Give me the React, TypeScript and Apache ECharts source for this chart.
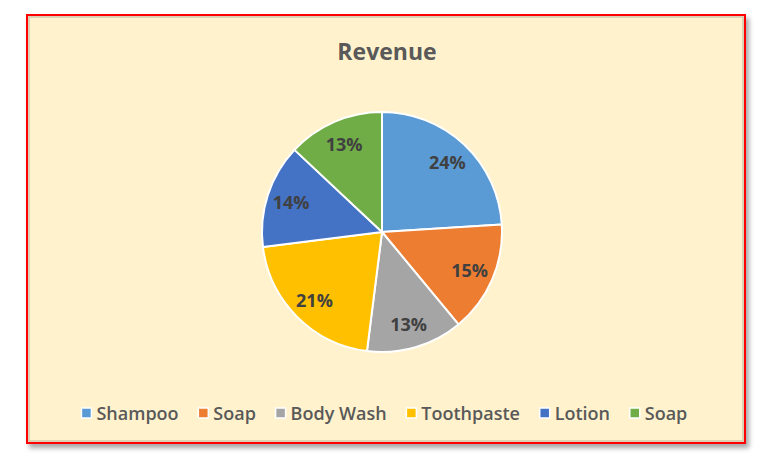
import React, { useEffect, useRef } from "react";
import * as echarts from "echarts";

const categories = ["Shampoo", "Soap", "Body Wash", "Toothpaste", "Lotion", "Soap "];
const shares = [24, 15, 13, 21, 14, 13];
const colors = ["#5B9BD5", "#ED7D31", "#A5A5A5", "#FFC000", "#4472C4", "#70AD47"];

const FONT = "'Open Sans', 'Noto Sans', sans-serif";

export default function App() {
  const chartRef = useRef<HTMLDivElement>(null);

  useEffect(() => {
    if (!chartRef.current) return;
    const chart = echarts.init(chartRef.current, undefined, { renderer: "svg" });

    const data = categories.map((name, i) => ({
      name,
      value: shares[i],
      itemStyle: { color: colors[i] },
    }));

    chart.setOption({
      animation: false,
      color: colors,
      title: {
        text: "Revenue",
        left: 382,
        textAlign: "center",
        top: 34,
        textStyle: {
          fontFamily: FONT,
          fontSize: 23,
          fontWeight: "bold",
          color: "#595959",
        },
      },
      legend: {
        data: categories,
        bottom: 46,
        left: "center",
        icon: "rect",
        itemWidth: 10,
        itemHeight: 10,
        itemGap: 19,
        itemStyle: { borderColor: "#ffffff", borderWidth: 1.5 },
        formatter: (name: string) => name.trim(),
        textStyle: {
          fontFamily: FONT,
          fontSize: 18,
          fontWeight: 600,
          color: "#595959",
        },
      },
      graphic: [
        {
          type: "rect",
          z: -10,
          shape: { x: 27, y: 15, width: 718, height: 428 },
          style: {
            fill: "#FFF2CC",
            stroke: "#FF0000",
            lineWidth: 2,
            shadowBlur: 5,
            shadowOffsetX: 3,
            shadowOffsetY: 4,
            shadowColor: "rgba(0,0,0,0.35)",
          },
        },
        {
          type: "rect",
          z: -9,
          shape: { x: 29, y: 17, width: 714, height: 424 },
          style: { fill: "none", stroke: "rgba(120,120,120,0.35)", lineWidth: 1.5 },
        },
      ],
      series: [
        {
          type: "pie",
          center: [382, 232],
          radius: [0, 120],
          startAngle: 90,
          clockwise: true,
          data,
          label: { show: false },
          labelLine: { show: false },
          itemStyle: { borderColor: "#ffffff", borderWidth: 2 },
          emphasis: { scale: false },
        },
        {
          type: "pie",
          center: [382, 232],
          radius: [65, 120],
          startAngle: 90,
          clockwise: true,
          silent: true,
          data: data.map((d) => ({ ...d, itemStyle: { color: "rgba(0,0,0,0)" } })),
          label: {
            show: true,
            position: "inside",
            formatter: (p: any) => `${Math.round(p.percent)}%`,
            fontFamily: FONT,
            fontSize: 18,
            fontWeight: "bold",
            color: "#404040",
          },
          labelLine: { show: false },
          emphasis: { disabled: true },
        },
      ],
    });

    return () => chart.dispose();
  }, []);

  return (
    <div
      ref={chartRef}
      style={{ position: "fixed", left: 0, top: 0, width: 768, height: 473, background: "#ffffff" }}
    />
  );
}
